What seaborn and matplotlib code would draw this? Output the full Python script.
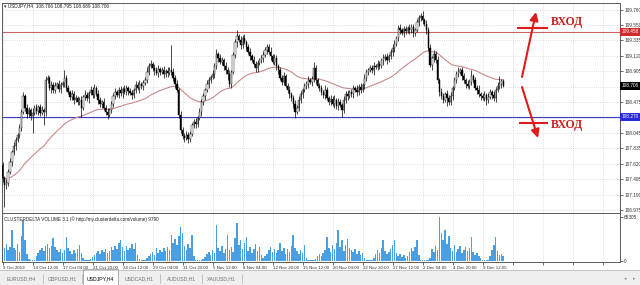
import numpy as np
import pandas as pd
import matplotlib
matplotlib.use("Agg")
import matplotlib.pyplot as plt
from matplotlib.patches import Rectangle
from matplotlib.transforms import blended_transform_factory
import seaborn as sns

# ---------------- data ----------------
chart_title = "\u25be USDJPY,H4  108.766 108.795 108.689 108.706"
volume_title = "CLUSTERDELTA VOLUME 3.1 (\u00a9 http://my.clusterdelta.com/volume) 9790"
first_open = 107.60
closes = [
    107.42, 107.32, 107.35, 107.50, 107.64, 107.78, 107.87, 107.95, 108.02, 108.12,
    108.34, 108.56, 108.40, 108.31, 108.37, 108.28, 108.33, 108.40, 108.35, 108.41,
    108.33, 108.37, 108.34, 108.78, 108.81, 108.67, 108.72, 108.65, 108.70, 108.73,
    108.66, 108.72, 108.74, 108.81, 108.67, 108.62, 108.55, 108.59, 108.51, 108.53,
    108.48, 108.51, 108.40, 108.55, 108.58, 108.53, 108.60, 108.65, 108.58, 108.67,
    108.59, 108.51, 108.45, 108.48, 108.40, 108.34, 108.30, 108.37, 108.45, 108.56,
    108.62, 108.58, 108.65, 108.60, 108.66, 108.62, 108.67, 108.63, 108.60, 108.58,
    108.65, 108.72, 108.67, 108.73, 108.70, 108.74, 108.78, 108.90, 108.98, 109.01,
    108.95, 108.92, 108.88, 108.94, 108.90, 108.92, 108.87, 108.91, 108.88, 108.92,
    108.90, 108.81, 108.73, 108.65, 108.30, 108.09, 108.01, 107.98, 108.02, 107.96,
    108.03, 108.16, 108.20, 108.17, 108.26, 108.34, 108.48, 108.56, 108.65, 108.73,
    108.78, 108.83, 108.87, 108.98, 109.15, 109.09, 109.04, 109.06, 108.98, 108.92,
    108.87, 108.73, 108.90, 109.13, 109.31, 109.40, 109.34, 109.27, 109.37, 109.31,
    109.25, 109.18, 109.12, 109.06, 109.01, 108.95, 109.02, 109.06, 109.09, 109.13,
    109.20, 109.25, 109.18, 109.12, 109.04, 109.09, 108.98, 108.92, 108.81, 108.76,
    108.84, 108.70, 108.65, 108.59, 108.53, 108.45, 108.34, 108.40, 108.51, 108.59,
    108.65, 108.70, 108.73, 108.78, 108.76, 108.80, 108.95, 108.78, 108.70, 108.67,
    108.62, 108.58, 108.65, 108.53, 108.48, 108.52, 108.45, 108.51, 108.42, 108.48,
    108.44, 108.37, 108.51, 108.59, 108.56, 108.62, 108.59, 108.67, 108.65, 108.62,
    108.69, 108.65, 108.72, 108.81, 108.90, 108.92, 108.95, 108.92, 108.98, 108.97,
    109.01, 108.98, 109.06, 109.09, 109.11, 109.06, 109.12, 109.18, 109.23, 109.29,
    109.37, 109.51, 109.48, 109.44, 109.49, 109.47, 109.51, 109.48, 109.52, 109.44,
    109.48, 109.59, 109.65, 109.68, 109.62, 109.57, 109.48, 109.23, 108.99, 109.09,
    109.15, 109.06, 108.78, 108.62, 108.56, 108.51, 108.59, 108.53, 108.48, 108.56,
    108.67, 108.78, 108.87, 108.90, 108.92, 108.84, 108.78, 108.73, 108.70, 108.76,
    108.84, 108.78, 108.67, 108.65, 108.59, 108.56, 108.53, 108.58, 108.51, 108.55,
    108.62, 108.58, 108.53, 108.65, 108.70, 108.73, 108.766, 108.706,
]
# wick lengths above / below the body, in hundredths of a yen
up_wick = [
    4, 3, 5, 4, 6, 3, 5, 4, 3, 5,   4, 6, 3, 5, 4, 3, 6, 4, 5, 3,
    4, 5, 3, 6, 4, 3, 5, 4, 6, 3,   5, 4, 3, 11, 4, 5, 3, 6, 4, 5,
    3, 4, 5, 3, 6, 4, 3, 5, 4, 6,   3, 5, 4, 3, 6, 4, 5, 3, 4, 5,
    6, 3, 4, 5, 3, 6, 4, 3, 5, 4,   3, 5, 4, 6, 3, 4, 5, 6, 4, 5,
    3, 6, 4, 5, 3, 4, 6, 3, 5, 4,   35, 5, 4, 6, 3, 5, 4, 3, 6, 4,
    5, 3, 4, 6, 3, 5, 4, 5, 3, 6,   4, 3, 5, 4, 6, 3, 5, 4, 3, 5,
    4, 6, 3, 5, 4, 8, 3, 6, 4, 5,   3, 4, 5, 3, 6, 4, 5, 3, 4, 6,
    5, 3, 4, 6, 3, 5, 4, 3, 5, 4,   6, 3, 4, 5, 3, 4, 6, 3, 5, 4,
    3, 5, 4, 6, 3, 4, 9, 5, 3, 4,   5, 3, 6, 4, 3, 5, 4, 6, 3, 5,
    4, 3, 5, 4, 6, 3, 4, 5, 3, 6,   4, 5, 3, 6, 4, 3, 5, 4, 6, 3,
    5, 4, 3, 6, 4, 5, 3, 4, 6, 5,   3, 4, 6, 3, 5, 4, 3, 6, 4, 5,
    3, 5, 4, 4, 6, 3, 5, 4, 6, 3,   5, 4, 6, 3, 5, 4, 3, 5, 4, 6,
    3, 5, 4, 6, 3, 5, 4, 3, 5, 4,   8, 3, 5, 4, 6, 3, 4, 5, 3, 6,
    4, 3, 5, 4, 6, 11, 3, 3,
]
dn_wick = [
    6, 30, 5, 4, 3, 5, 4, 6, 3, 4,   5, 3, 4, 6, 4, 5, 23, 3, 4, 5,
    4, 3, 18, 5, 4, 3, 6, 4, 5, 3,   4, 6, 3, 5, 4, 3, 5, 4, 6, 3,
    5, 4, 13, 3, 5, 4, 6, 3, 4, 5,   3, 6, 4, 5, 3, 4, 6, 3, 5, 4,
    4, 3, 5, 4, 6, 3, 4, 5, 3, 6,   5, 4, 3, 6, 4, 5, 3, 4, 5, 3,
    4, 6, 3, 5, 4, 3, 6, 4, 5, 3,   5, 4, 6, 3, 5, 4, 4, 6, 3, 5,
    4, 3, 5, 6, 4, 3, 5, 4, 6, 3,   5, 4, 3, 6, 4, 5, 3, 4, 6, 5,
    8, 4, 5, 3, 4, 6, 3, 5, 4, 3,   6, 4, 5, 3, 4, 5, 6, 3, 4, 5,
    3, 6, 4, 5, 3, 4, 6, 5, 3, 4,   5, 3, 4, 6, 4, 5, 8, 3, 5, 4,
    6, 3, 4, 5, 3, 6, 4, 5, 3, 4,   5, 4, 6, 3, 5, 4, 3, 6, 4, 5,
    3, 10, 5, 4, 6, 3, 4, 5, 3, 6,   4, 5, 3, 6, 4, 5, 3, 4, 6, 3,
    5, 4, 3, 6, 4, 5, 3, 4, 6, 5,   3, 4, 6, 3, 5, 4, 3, 6, 4, 5,
    4, 3, 5, 4, 6, 3, 5, 4, 3, 6,   5, 4, 3, 6, 4, 5, 3, 11, 4, 5,
    6, 3, 4, 5, 3, 6, 4, 5, 3, 4,   5, 4, 3, 6, 4, 5, 3, 4, 7, 5,
    3, 6, 4, 5, 3, 4, 5, 2,
]
# cluster volume per bar, thousands
volume_k = [
    22, 19, 25, 16, 21, 46, 19, 16, 25, 13,   37, 61, 31, 10, 3, 2, 1, 2, 7, 12,
    16, 19, 15, 22, 25, 19, 22, 34, 21, 16,   13, 18, 12, 16, 36, 19, 15, 10, 16, 12,
    18, 24, 12, 4, 2, 1, 2, 3, 6, 9,          12, 15, 10, 16, 13, 18, 12, 15, 21, 16,
    22, 18, 27, 31, 21, 15, 22, 16, 19, 25,   18, 27, 9, 3, 1, 1, 2, 4, 7, 10,
    13, 9, 19, 12, 16, 13, 19, 15, 21, 16,    39, 27, 33, 24, 37, 50, 42, 22, 16, 25,
    19, 39, 7, 2, 1, 1, 2, 3, 6, 10,          13, 9, 16, 12, 53, 19, 15, 22, 12, 18,
    39, 16, 21, 13, 34, 56, 24, 31, 18, 27,   36, 15, 21, 12, 18, 25, 15, 21, 9, 4,
    7, 10, 16, 21, 13, 18, 12, 16, 27, 15,    19, 10, 18, 13, 22, 39, 19, 15, 10, 16,
    12, 24, 4, 2, 1, 1, 2, 3, 7, 10,          7, 12, 16, 36, 19, 13, 24, 18, 27, 46,
    21, 31, 15, 24, 33, 19, 16, 13, 18, 10,   15, 9, 12, 4, 2, 1, 1, 2, 4, 10,
    16, 12, 19, 31, 15, 10, 13, 18, 24, 31,   12, 7, 10, 6, 9, 4, 7, 13, 19, 15,
    21, 31, 9, 2, 1, 1, 1, 2, 4, 18,          13, 22, 16, 65, 42, 31, 46, 25, 37, 19,
    15, 24, 13, 18, 22, 12, 16, 21, 15, 19,   36, 13, 9, 12, 7, 4, 2, 1, 1, 2,
    7, 16, 24, 36, 15, 9, 10, 7,
]
volume_max_k = 65.305
date_labels = ["9 Oct 2019", "14 Oct 12:05", "17 Oct 04:00", "21 Oct 20:00",
               "24 Oct 12:00", "29 Oct 04:00", "31 Oct 20:00", "5 Nov 12:00",
               "8 Nov 04:00", "12 Nov 20:00", "15 Nov 12:00", "20 Nov 04:00",
               "22 Nov 20:00", "27 Nov 12:00", "2 Dec 04:05", "4 Dec 20:00",
               "9 Dec 12:05"]
bars_per_label = 16
price_ticks = [109.760, 109.550, 109.335, 109.120, 108.905, 108.690, 108.475,
               108.260, 108.045, 107.835, 107.620, 107.405, 107.190, 106.975]
hidden_ticks = [108.690, 108.260]
resistance = 109.458
support = 108.270
last_price = 108.706
ma_span = 50
tabs = ["EURUSD,H4", "GBPUSD,H1", "USDJPY,H4", "USDCAD,H1", "AUDUSD,H1", "XAUUSD,H1"]
active_tab = "USDJPY,H4"
entry_text = "ВХОД"

# ---------------- styling ----------------
sns.set_style("white")
plt.rcParams['font.family'] = ['Liberation Sans', 'DejaVu Sans']

W, H = 640, 285
fig = plt.figure(figsize=(W / 100, H / 100), dpi=100)
fig.patch.set_facecolor('white')


def rect(l, t, r, b):
    return [l / W, 1 - b / H, (r - l) / W, (b - t) / H]


ax = fig.add_axes(rect(2, 3, 620, 213))
axv = fig.add_axes(rect(2, 213, 620, 262), sharex=ax)

n = len(closes)
idx = np.arange(n)
c = np.array(closes)
o = np.r_[first_open, c[:-1]]
body_hi = np.maximum(o, c)
body_lo = np.minimum(o, c)
hi = body_hi + np.array(up_wick) / 100
lo = body_lo - np.array(dn_wick) / 100
bull = c >= o
body_h = np.maximum(body_hi - body_lo, 0.006)

# grid
grid_pos = np.arange(0, 330, bars_per_label)
gl = dict(ls=(0, (1, 2)), color='#c4c4c4', lw=0.5, zorder=0)
for gx in grid_pos:
    ax.axvline(gx, **gl)
    axv.axvline(gx, **gl)
for gy in price_ticks:
    ax.axhline(gy, **gl)

# level lines
ax.axhline(resistance, color='#c86464', lw=0.8, zorder=1)
ax.axhline(support, color='#3c3cc0', lw=0.8, zorder=1)

# moving average (exponential, seeded with the first close)
ma = pd.Series(c).ewm(span=ma_span, adjust=False).mean()
sns.lineplot(x=idx, y=ma.values, ax=ax, color='#c88a8a', lw=0.8, zorder=2)

# candles
ax.vlines(idx, lo, hi, color='black', lw=0.5, zorder=3)
ax.bar(idx[bull], body_h[bull], bottom=body_lo[bull], width=0.7,
       color='white', edgecolor='black', linewidth=0.3, zorder=4)
ax.bar(idx[~bull], body_h[~bull], bottom=body_lo[~bull], width=0.7,
       color='black', edgecolor='black', linewidth=0.3, zorder=4)

ax.set_xlim(-0.27, 329.3)
ax.set_ylim(106.933, 109.857)

# volume
axv.bar(idx, volume_k, width=0.8, color='#4a9fe2', linewidth=0, zorder=2)
axv.set_ylim(-1.48, 71.2)

# axes decorations
for a in (ax, axv):
    for s in a.spines.values():
        s.set_color('#5a5a5a')
        s.set_linewidth(0.7)
    a.set_facecolor('white')

ax.yaxis.tick_right()
ax.set_yticks(price_ticks)
ax.set_yticklabels(["" if t in hidden_ticks else f"{t:.3f}" for t in price_ticks])
ax.tick_params(axis='y', length=2, width=0.5, labelsize=3.4, pad=1,
               colors='#303030', right=True, left=False)
ax.tick_params(axis='x', length=0, labelbottom=False)

axv.set_xticks(grid_pos)
axv.set_xticklabels(date_labels + [""] * (len(grid_pos) - len(date_labels)))
for lbl in axv.get_xticklabels():
    lbl.set_horizontalalignment('left')
axv.tick_params(axis='x', length=2, width=0.5, labelsize=3.15, pad=1,
                colors='#303030', bottom=True)
axv.yaxis.tick_right()
axv.set_yticks([0, volume_max_k])
axv.set_yticklabels(["0", f"{volume_max_k * 1000:.0f}"])
axv.tick_params(axis='y', length=2, width=0.5, labelsize=3.4, pad=1,
                colors='#303030', right=True, left=False)
axv.set_xlabel("")
ax.set_xlabel("")

# coloured price labels on the scale
tr = blended_transform_factory(ax.transAxes, ax.transData)
for val, col in ((resistance, '#d22a2a'), (last_price, '#000000'), (support, '#2a2ad8')):
    ax.text(1.0025, val, f"{val:.3f}", transform=tr, ha='left', va='center',
            fontsize=3.4, color='white', clip_on=False, zorder=10,
            bbox=dict(boxstyle='square,pad=0.3', fc=col, ec='none'))

# ---------------- overlay in pixel coordinates ----------------
ov = fig.add_axes([0, 0, 1, 1], facecolor='none')
ov.set_xlim(0, W)
ov.set_ylim(H, 0)
ov.axis('off')

ov.text(4, 6, chart_title, fontsize=3.4, color='#202020', ha='left', va='center')
ov.text(4, 219, volume_title, fontsize=3.3, color='#202020', ha='left', va='center')

red = '#e01b1b'
ov.plot([517, 548], [28, 28], color=red, lw=1.5, solid_capstyle='butt')
ov.plot([519, 548], [123, 123], color=red, lw=1.5, solid_capstyle='butt')
ov.annotate('', xy=(536, 12), xytext=(522, 77),
            arrowprops=dict(arrowstyle='-|>,head_length=0.7,head_width=0.35',
                            color=red, lw=1.5, mutation_scale=7, shrinkA=0, shrinkB=0))
ov.annotate('', xy=(538, 138), xytext=(522, 87),
            arrowprops=dict(arrowstyle='-|>,head_length=0.7,head_width=0.35',
                            color=red, lw=1.5, mutation_scale=7, shrinkA=0, shrinkB=0))
for ty in (22.5, 125):
    ov.text(551, ty, entry_text, fontsize=8.5, fontweight='bold', color='#c81e1e',
            family=['Liberation Serif', 'DejaVu Serif'], ha='left', va='center')

# tab bar
ov.add_patch(Rectangle((0, 270), W, 15, fc='#efefef', ec='none'))
ov.plot([0, W], [270, 270], color='#b0b0b0', lw=0.5)
tab_x = [7, 48, 87, 125, 167, 207]
sep_x = [43, 82, 160, 202, 242]
ov.add_patch(Rectangle((83, 269), 35, 16, fc='white', ec='#909090', lw=0.5))
for tx, t in zip(tab_x, tabs):
    ov.text(tx, 278.5, t, fontsize=3.7, ha='left', va='center',
            color='#000000' if t == active_tab else '#707070')
for sx in sep_x:
    ov.plot([sx, sx], [274, 283], color='#b0b0b0', lw=0.5)
ov.text(625, 278.5, "\u25c2", fontsize=3.5, color='#909090', ha='center', va='center')
ov.text(634, 278.5, "\u25b8", fontsize=3.5, color='#909090', ha='center', va='center')

fig.savefig("out.png", dpi=100)
